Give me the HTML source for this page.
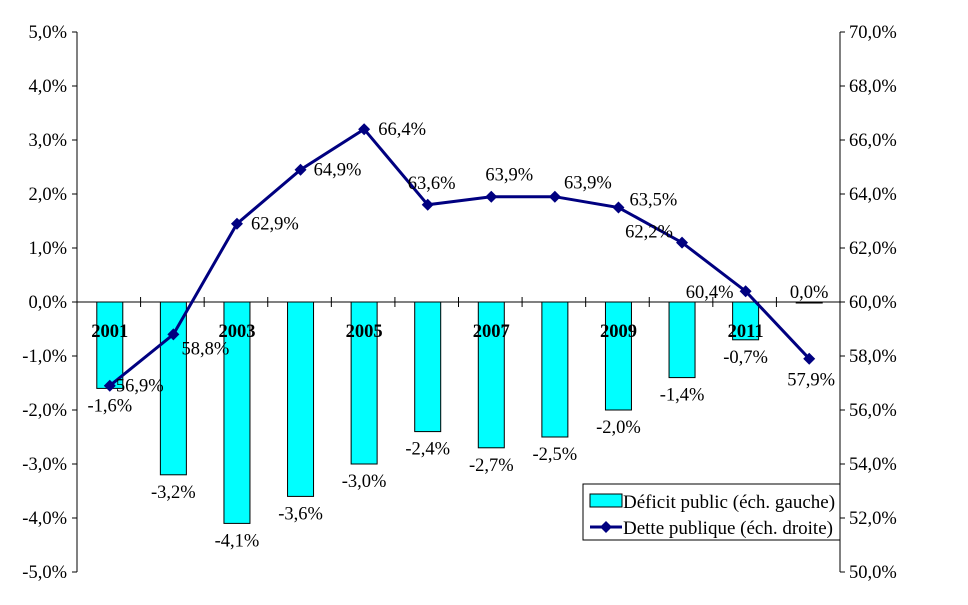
<!DOCTYPE html>
<html><head><meta charset="utf-8"><style>
body{margin:0;background:#fff}
svg{display:block;font-family:"Liberation Serif",serif}
</style></head><body>
<svg id="chart" width="968" height="605"></svg>
<script>
const categories=["2001","2002","2003","2004","2005","2006","2007","2008","2009","2010","2011","2012"];
const deficit=[-1.6,-3.2,-4.1,-3.6,-3.0,-2.4,-2.7,-2.5,-2.0,-1.4,-0.7,0.0];
const debt=[56.9,58.8,62.9,64.9,66.4,63.6,63.9,63.9,63.5,62.2,60.4,57.9];
const leftTicks=[5,4,3,2,1,0,-1,-2,-3,-4,-5];
const rightTicks=[70,68,66,64,62,60,58,56,54,52,50];
const debtLabelOffsets=[[30,0],[32,14],[38,0],[37,0],[38,0],[4,-22],[18,-22],[33,-14],[35,-8],[-33,-11],[-36,1],[2,21]];
const svg=document.getElementById('chart');
const NS='http://www.w3.org/2000/svg';
const X0=77,X1=840,Y0=32,Y1=572;
const FS=18.5;
const step=(X1-X0)/categories.length;
const xc=i=>X0+step*(i+0.5)+1;
const yL=v=>Y0+(5-v)*(Y1-Y0)/10;
const yR=v=>Y0+(70-v)*(Y1-Y0)/20;
const fmt=v=>v.toFixed(1).replace('.',',')+'%';
function mk(tag,attrs,txt){const e=document.createElementNS(NS,tag);for(const k in attrs)e.setAttribute(k,attrs[k]);if(txt!==undefined)e.textContent=txt;svg.appendChild(e);return e;}
let e=mk('line',{x1:X0,y1:Y0,x2:X0,y2:Y1,stroke:'#000'});


e=mk('line',{x1:X1,y1:Y0,x2:X1,y2:Y1,stroke:'#000'});


leftTicks.forEach(t=>{const y=yL(t);mk('line',{x1:X0-5,y1:y,x2:X0,y2:y,stroke:'#000'});
 e=mk('text',{x:X0-10,y:y+6,'text-anchor':'end','font-size':FS},fmt(t));
 
 });
rightTicks.forEach(t=>{const y=yR(t);mk('line',{x1:X1,y1:y,x2:X1+5,y2:y,stroke:'#000'});
 e=mk('text',{x:X1+9,y:y+6,'font-size':FS},fmt(t));
 
 });
deficit.forEach((v,i)=>{const y0=yL(0),y=yL(v);
 e=mk('rect',{x:xc(i)-13,y:Math.min(y,y0),width:26,height:Math.max(Math.abs(y-y0),1),fill:'#00FFFF',stroke:'#000','stroke-width':1});
 
 
 const ly=v<0?y+23:y0-4;
 e=mk('text',{x:xc(i),y:ly,'text-anchor':'middle','font-size':FS},fmt(v));
 
 });
e=mk('line',{x1:X0,y1:yL(0),x2:X1,y2:yL(0),stroke:'#000'});


categories.forEach((c,i)=>{const x=X0+step*i;if(i>0)mk('line',{x1:x,y1:yL(0)-5,x2:x,y2:yL(0)+5,stroke:'#000'});
 if(i%2===0){e=mk('text',{x:xc(i),y:yL(0)+35,'text-anchor':'middle','font-size':FS,'font-weight':'bold'},c);
 
 }});
e=mk('polyline',{points:debt.map((v,i)=>xc(i)+','+yR(v)).join(' '),fill:'none',stroke:'#000080','stroke-width':3});


debt.forEach((v,i)=>{const x=xc(i),y=yR(v);
 e=mk('polygon',{points:`${x},${y-6} ${x+6},${y} ${x},${y+6} ${x-6},${y}`,fill:'#000080'});
 
 
 const o=debtLabelOffsets[i];
 e=mk('text',{x:x+o[0],y:y+o[1]+6,'text-anchor':'middle','font-size':FS},fmt(v));
 
 });
e=mk('rect',{x:583,y:484,width:257,height:56,fill:'#fff',stroke:'#000'});


e=mk('rect',{x:590,y:494,width:32,height:13,fill:'#00FFFF',stroke:'#000'});


e=mk('text',{x:623,y:508,'font-size':19},'Déficit public (éch. gauche)');


e=mk('line',{x1:590,y1:527,x2:622,y2:527,stroke:'#000080','stroke-width':3});


mk('polygon',{points:'606,521 612,527 606,533 600,527',fill:'#000080'});
e=mk('text',{x:623,y:534,'font-size':19},'Dette publique (éch. droite)');


</script>
</body></html>
